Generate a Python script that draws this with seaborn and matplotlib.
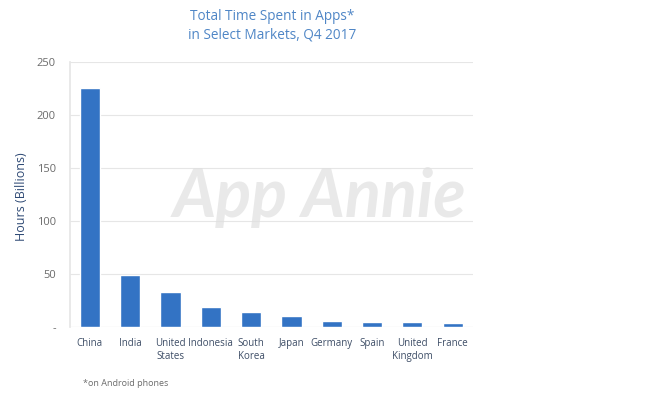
import numpy as np
import pandas as pd
import seaborn as sns
from matplotlib import pyplot as plt

# Data (hours, billions)
countries = ["China", "India", "United\nStates", "Indonesia", "South\nKorea",
             "Japan", "Germany", "Spain", "United\nKingdom", "France"]
hours = [225.5, 48.7, 33.0, 18.9, 13.8, 10.7, 5.9, 4.7, 4.7, 3.8]
y_ticks = [0, 50, 100, 150, 200, 250]
y_tick_labels = ["-", "50", "100", "150", "200", "250"]

df = pd.DataFrame({"country": countries, "hours": hours})

sns.set_theme(style="white")
plt.rcParams['font.family'] = ['Open Sans', 'DejaVu Sans']

fig = plt.figure(figsize=(6.46, 3.94), dpi=100)
ax = fig.add_axes([0.108, 0.170, 0.624, 0.673])

bar_color = "#3373C4"
sns.barplot(data=df, x="country", y="hours", color=bar_color, width=0.5,
            saturation=1, ax=ax, zorder=3)

ax.set_ylim(0, 250)
ax.set_xlim(-0.5, len(countries) - 0.5)
ax.set_yticks(y_ticks)
ax.set_yticklabels(y_tick_labels, color="#6b6b6b", fontsize=8)
ax.tick_params(axis="x", colors="#3d4d66", labelsize=7, length=0, pad=8)
ax.tick_params(axis="y", length=0, pad=10)
ax.yaxis.grid(True, color="#e6e6e6", linewidth=0.8, zorder=0)
for s in ["top", "right", "bottom"]:
    ax.spines[s].set_visible(False)
ax.spines["left"].set_color("#e6e6e6")
ax.axhline(0, color="#e0e0e0", linewidth=0.8, zorder=2)

ax.set_xlabel("")
ax.set_ylabel("")
fig.text(0.034, 0.50, "Hours (Billions)", rotation=90, ha="center", va="center",
         color="#2f4a75", fontsize=9)

# watermark
ax.text(0.62, 0.49, "App Annie", transform=ax.transAxes, ha="center", va="center",
        fontsize=48, style="italic", color="#e0e0e0", alpha=0.7, zorder=1,
        family=["DejaVu Sans Condensed", "Liberation Sans Narrow", "Lato"],
        fontweight="bold")

fig.text(0.421, 0.935, "Total Time Spent in Apps*\nin Select Markets, Q4 2017",
         ha="center", va="center", color="#4f86c6", fontsize=9.8, linespacing=1.3)
fig.text(0.128, 0.02, "*on Android phones", color="#6b6b6b", fontsize=6.5)

fig.savefig("out.png", dpi=100)
